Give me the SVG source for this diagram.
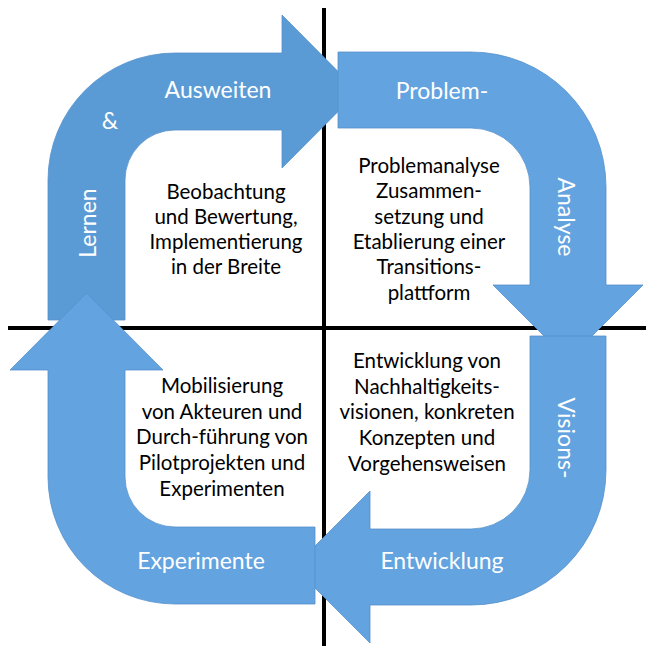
<svg xmlns="http://www.w3.org/2000/svg" width="646" height="646" viewBox="0 0 646 646">
<style>
.axis{stroke:#000;stroke-width:4;fill:none}
.arr{stroke:#5590CB;stroke-width:0.8}
.dark{fill:#5B9BD5}
.light{fill:#63A3DF}
.lbl{font-family:Lato,"Liberation Sans",sans-serif;font-size:23px;fill:#fff;text-anchor:middle}
.desc{font-family:Lato,"Liberation Sans",sans-serif;font-size:20.5px;fill:#000;text-anchor:middle}
</style>
<rect width="646" height="646" fill="#fff"/>
<g id="axes">
<line class="axis" x1="324" y1="8" x2="324" y2="646"/>
<line class="axis" x1="8" y1="328" x2="646" y2="328"/>
</g>
<g id="connectors">
<g id="arrow-lernen">
<path class="arr dark" d="M48,320 L48,180 A127,127 0 0 1 175,53 L282,53 L282,15 L358,91.5 L282,168 L282,130 L175,130 A50,50 0 0 0 125,180 L125,320 Z"/>
<text class="lbl" x="218" y="98">Ausweiten</text>
<text class="lbl" x="110" y="129">&amp;</text>
<text class="lbl" transform="translate(88,223) rotate(-90)" y="8">Lernen</text>
</g>
<g id="arrow-problem">
<path class="arr light" d="M338,52 L471,52 A135,135 0 0 1 606,187 L606,285 L643,285 L568,360 L493,285 L530,285 L530,187 A59,59 0 0 0 471,128 L338,128 Z"/>
<text class="lbl" x="442" y="99">Problem-</text>
<text class="lbl" transform="translate(566,217) rotate(90)" y="8">Analyse</text>
</g>
<g id="arrow-vision">
<path class="arr light" d="M530,336 L606,336 L606,470 A135,135 0 0 1 471,605 L370,605 L370,643 L294,567 L370,491 L370,529 L471,529 A59,59 0 0 0 530,470 Z"/>
<text class="lbl" transform="translate(566,438) rotate(90)" y="8">Visions-</text>
<text class="lbl" x="442" y="569">Entwicklung</text>
</g>
<g id="arrow-experimente">
<path class="arr light" d="M315,527 L175,527 A50,50 0 0 1 125,477 L125,370 L163,370 L86.5,293 L10,370 L48,370 L48,477 A127,127 0 0 0 175,604 L315,604 Z"/>
<text class="lbl" x="201" y="569">Experimente</text>
</g>
</g>
<g id="node-tl">
<text class="desc" x="226"><tspan x="226" y="199">Beobachtung</tspan><tspan x="226" y="224">und Bewertung,</tspan><tspan x="226" y="249">Implementierung</tspan><tspan x="226" y="274">in der Breite</tspan></text>
</g>
<g id="node-tr">
<text class="desc" x="429"><tspan x="429" y="173">Problemanalyse</tspan><tspan x="429" y="198">Zusammen-</tspan><tspan x="429" y="224">setzung und</tspan><tspan x="429" y="249">Etablierung einer</tspan><tspan x="429" y="274">Transitions-</tspan><tspan x="429" y="300">plattform</tspan></text>
</g>
<g id="node-bl">
<text class="desc" x="222"><tspan x="222" y="393">Mobilisierung</tspan><tspan x="222" y="419">von Akteuren und</tspan><tspan x="222" y="444">Durch-führung von</tspan><tspan x="222" y="470">Pilotprojekten und</tspan><tspan x="222" y="496">Experimenten</tspan></text>
</g>
<g id="node-br">
<text class="desc" x="427"><tspan x="427" y="368">Entwicklung von</tspan><tspan x="427" y="394">Nachhaltigkeits-</tspan><tspan x="427" y="419">visionen, konkreten</tspan><tspan x="427" y="445">Konzepten und</tspan><tspan x="427" y="471">Vorgehensweisen</tspan></text>
</g>
</svg>
